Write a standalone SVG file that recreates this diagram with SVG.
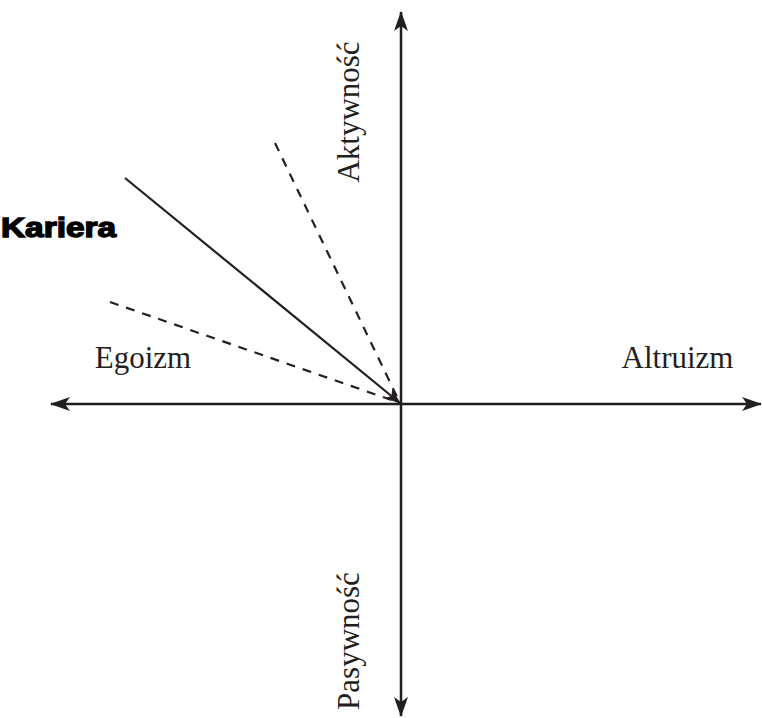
<svg xmlns="http://www.w3.org/2000/svg" width="762" height="718" viewBox="0 0 762 718">
<style>
.ax{stroke:#231f20;stroke-width:2.5;fill:none}
.ln{stroke:#231f20;stroke-width:2.2;fill:none}
.ds{stroke:#231f20;stroke-width:2.2;fill:none;stroke-dasharray:9 8}
.lab{font-family:"Liberation Serif",serif;font-size:31px;fill:#231f20}
.bold{font-family:"Liberation Sans",sans-serif;font-weight:bold;font-size:27px;fill:#000;stroke:#000;stroke-width:1.4}
</style>
<defs>
<marker id="ah" viewBox="0 0 20 14" refX="19" refY="7" markerWidth="20" markerHeight="14" markerUnits="userSpaceOnUse" orient="auto">
<path d="M0,0 L20,7 L0,14 L5,7 Z" fill="#231f20"/>
</marker>
<marker id="ah2" viewBox="0 0 16 12" refX="15" refY="6" markerWidth="16" markerHeight="12" markerUnits="userSpaceOnUse" orient="auto">
<path d="M0,0 L16,6 L0,12 L4,6 Z" fill="#231f20"/>
</marker>
</defs>
<g id="connectors">
<line class="ax" x1="401" y1="404" x2="401" y2="12" marker-end="url(#ah)"/>
<line class="ax" x1="401" y1="404" x2="401" y2="716" marker-end="url(#ah)"/>
<line class="ax" x1="401" y1="404" x2="51" y2="404" marker-end="url(#ah)"/>
<line class="ax" x1="401" y1="404" x2="761" y2="404" marker-end="url(#ah)"/>
<line class="ln" x1="125" y1="178" x2="400" y2="403" marker-end="url(#ah2)"/>
<line class="ds" x1="275" y1="143" x2="400" y2="403"/>
<line class="ds" x1="110" y1="302" x2="400" y2="403"/>
</g>
<g id="aktywnosc"><text class="lab" transform="translate(359,112) rotate(-90)" text-anchor="middle">Aktywność</text></g>
<g id="pasywnosc"><text class="lab" transform="translate(359,641) rotate(-90)" text-anchor="middle">Pasywność</text></g>
<g id="egoizm"><text class="lab" x="143" y="368" text-anchor="middle">Egoizm</text></g>
<g id="altruizm"><text class="lab" x="677.5" y="368" text-anchor="middle">Altruizm</text></g>
<g id="kariera"><text class="bold" x="1" y="237" textLength="115" lengthAdjust="spacingAndGlyphs">Kariera</text></g>
</svg>
